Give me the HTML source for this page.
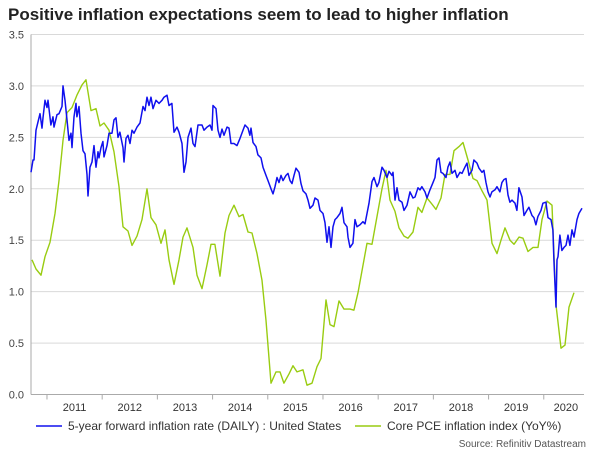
<!DOCTYPE html>
<html><head><meta charset="utf-8"><style>
body{margin:0;background:#fff;width:600px;height:450px;overflow:hidden;font-family:"Liberation Sans",Arial,sans-serif;}
</style></head><body>
<svg id="chart" width="600" height="450" xmlns="http://www.w3.org/2000/svg" font-family="Liberation Sans, Arial, sans-serif">
<text x="8" y="20" font-size="17" font-weight="bold" fill="#222">Positive inflation expectations seem to lead to higher inflation</text>
<g id="grid"></g><g id="axes"></g><g id="series"></g>
<g>
<line x1="36" y1="426" x2="62" y2="426" stroke="#1010ee" stroke-width="1.5"/>
<text x="68" y="430" font-size="12" fill="#333">5-year forward inflation rate (DAILY) : United States</text>
<line x1="355" y1="426" x2="381" y2="426" stroke="#99cc11" stroke-width="1.5"/>
<text x="387" y="430" font-size="12" fill="#333">Core PCE inflation index (YoY%)</text>
</g>
<text x="586" y="447" font-size="10" fill="#555" text-anchor="end">Source: Refinitiv Datastream</text>
</svg>
<script>
const yTicks=[0,0.5,1.0,1.5,2.0,2.5,3.0,3.5];
const yearLabels=[2011,2012,2013,2014,2015,2016,2017,2018,2019,2020];
const blueDates=[2010.711,2010.747,2010.765,2010.801,2010.837,2010.874,2010.910,2010.928,2010.964,2011.000,2011.018,2011.072,2011.109,2011.127,2011.181,2011.217,2011.272,2011.290,2011.326,2011.362,2011.399,2011.435,2011.453,2011.489,2011.525,2011.543,2011.580,2011.616,2011.652,2011.688,2011.725,2011.743,2011.779,2011.815,2011.851,2011.888,2011.924,2011.942,2011.978,2012.014,2012.033,2012.087,2012.123,2012.178,2012.214,2012.250,2012.286,2012.322,2012.377,2012.395,2012.431,2012.467,2012.504,2012.540,2012.576,2012.630,2012.685,2012.739,2012.775,2012.812,2012.848,2012.884,2012.920,2012.975,2013.029,2013.083,2013.120,2013.174,2013.210,2013.264,2013.301,2013.355,2013.391,2013.446,2013.482,2013.518,2013.554,2013.609,2013.645,2013.681,2013.736,2013.808,2013.844,2013.899,2013.953,2013.989,2014.007,2014.062,2014.098,2014.134,2014.170,2014.207,2014.261,2014.297,2014.333,2014.388,2014.442,2014.496,2014.551,2014.587,2014.641,2014.677,2014.696,2014.732,2014.786,2014.822,2014.877,2014.913,2014.967,2015.004,2015.058,2015.094,2015.130,2015.167,2015.203,2015.239,2015.275,2015.330,2015.366,2015.402,2015.438,2015.475,2015.511,2015.565,2015.601,2015.638,2015.692,2015.728,2015.765,2015.819,2015.855,2015.909,2015.946,2016.000,2016.036,2016.073,2016.109,2016.145,2016.181,2016.217,2016.254,2016.308,2016.344,2016.380,2016.435,2016.453,2016.489,2016.543,2016.580,2016.616,2016.670,2016.724,2016.761,2016.797,2016.833,2016.888,2016.924,2016.978,2017.014,2017.069,2017.105,2017.159,2017.196,2017.250,2017.268,2017.304,2017.341,2017.377,2017.431,2017.467,2017.522,2017.576,2017.630,2017.667,2017.721,2017.757,2017.793,2017.848,2017.884,2017.938,2017.993,2018.029,2018.065,2018.101,2018.138,2018.174,2018.228,2018.264,2018.301,2018.337,2018.391,2018.428,2018.482,2018.518,2018.572,2018.609,2018.645,2018.699,2018.735,2018.790,2018.826,2018.880,2018.916,2018.953,2018.989,2019.025,2019.061,2019.116,2019.152,2019.206,2019.242,2019.279,2019.315,2019.351,2019.387,2019.424,2019.478,2019.514,2019.550,2019.605,2019.641,2019.695,2019.731,2019.786,2019.822,2019.858,2019.894,2019.949,2019.985,2020.039,2020.076,2020.130,2020.166,2020.184,2020.221,2020.239,2020.257,2020.293,2020.329,2020.366,2020.402,2020.438,2020.474,2020.511,2020.547,2020.601,2020.637,2020.692];
const blueValues=[2.16,2.28,2.28,2.57,2.65,2.73,2.59,2.69,2.86,2.79,2.86,2.62,2.70,2.60,2.72,2.73,2.80,3.00,2.86,2.67,2.47,2.54,2.40,2.70,2.83,2.70,2.80,2.54,2.37,2.34,2.14,1.93,2.21,2.26,2.42,2.21,2.36,2.30,2.40,2.46,2.31,2.42,2.54,2.54,2.67,2.69,2.50,2.55,2.40,2.26,2.49,2.52,2.44,2.57,2.54,2.60,2.64,2.80,2.76,2.89,2.81,2.89,2.78,2.86,2.83,2.86,2.89,2.91,2.81,2.83,2.55,2.60,2.55,2.44,2.16,2.26,2.50,2.59,2.44,2.41,2.62,2.62,2.57,2.60,2.62,2.57,2.81,2.78,2.57,2.50,2.58,2.52,2.60,2.59,2.44,2.44,2.42,2.49,2.57,2.62,2.59,2.52,2.59,2.45,2.41,2.33,2.30,2.21,2.13,2.08,2.00,1.95,2.02,2.11,2.06,2.13,2.08,2.13,2.15,2.08,2.05,2.13,2.20,2.16,2.05,1.98,1.95,1.89,1.81,1.84,1.91,1.89,1.79,1.76,1.67,1.48,1.63,1.43,1.63,1.70,1.72,1.76,1.82,1.67,1.63,1.53,1.43,1.47,1.70,1.63,1.65,1.68,1.66,1.76,1.86,2.07,2.11,2.02,2.06,2.21,2.18,2.11,2.17,2.13,2.16,1.89,2.01,1.89,1.87,1.79,1.84,1.97,1.91,1.92,2.01,1.99,2.02,1.97,1.91,1.99,2.06,2.11,2.28,2.30,2.16,2.15,2.11,2.21,2.26,2.15,2.18,2.11,2.16,2.15,2.21,2.25,2.13,2.18,2.28,2.25,2.20,2.16,2.18,2.06,1.97,1.92,1.97,1.99,2.02,1.97,2.06,2.09,2.10,1.94,1.87,1.89,1.86,1.79,2.01,1.92,1.74,1.79,1.82,1.74,1.72,1.65,1.73,1.79,1.86,1.87,1.72,1.70,1.60,1.31,0.85,1.31,1.34,1.55,1.40,1.43,1.45,1.55,1.45,1.60,1.53,1.70,1.76,1.81];
const greenDates=[2010.729,2010.801,2010.892,2010.964,2011.054,2011.145,2011.217,2011.290,2011.362,2011.453,2011.543,2011.634,2011.707,2011.797,2011.888,2011.960,2012.033,2012.123,2012.214,2012.304,2012.377,2012.467,2012.540,2012.630,2012.721,2012.812,2012.884,2012.975,2013.065,2013.138,2013.210,2013.301,2013.391,2013.464,2013.536,2013.645,2013.717,2013.808,2013.899,2013.971,2014.043,2014.134,2014.225,2014.297,2014.388,2014.478,2014.551,2014.641,2014.714,2014.804,2014.895,2014.967,2015.058,2015.149,2015.221,2015.293,2015.384,2015.457,2015.529,2015.638,2015.710,2015.801,2015.891,2015.964,2016.054,2016.127,2016.199,2016.290,2016.380,2016.489,2016.561,2016.634,2016.797,2016.888,2017.069,2017.141,2017.214,2017.304,2017.377,2017.467,2017.540,2017.630,2017.721,2017.793,2017.884,2017.975,2018.047,2018.138,2018.210,2018.301,2018.373,2018.464,2018.536,2018.627,2018.717,2018.790,2018.880,2018.971,2019.062,2019.152,2019.225,2019.297,2019.388,2019.460,2019.551,2019.623,2019.714,2019.804,2019.895,2019.967,2020.058,2020.149,2020.221,2020.312,2020.384,2020.457,2020.547];
const greenValues=[1.31,1.22,1.16,1.34,1.48,1.76,2.08,2.47,2.74,2.79,2.91,3.01,3.06,2.76,2.78,2.61,2.64,2.57,2.36,2.02,1.63,1.59,1.45,1.54,1.70,2.00,1.72,1.65,1.47,1.60,1.31,1.07,1.31,1.53,1.62,1.43,1.16,1.03,1.26,1.46,1.46,1.15,1.57,1.74,1.84,1.73,1.75,1.58,1.57,1.37,1.11,0.72,0.11,0.22,0.22,0.11,0.20,0.28,0.22,0.24,0.09,0.11,0.27,0.35,0.92,0.68,0.66,0.91,0.83,0.83,0.82,0.99,1.47,1.46,2.00,2.18,1.89,1.78,1.62,1.54,1.52,1.58,1.82,1.77,1.91,1.85,1.80,1.91,2.14,2.14,2.37,2.41,2.45,2.28,2.10,2.08,1.98,1.89,1.47,1.37,1.50,1.62,1.50,1.46,1.53,1.52,1.39,1.43,1.43,1.70,1.88,1.84,0.87,0.45,0.48,0.85,0.99];

const NS='http://www.w3.org/2000/svg';
const L=31,R=584,T=34.5,B=394.5,yMax=3.5;
const x0=2010.149,pxPerYear=55.2;
function xs(t){return (t-x0)*pxPerYear;}
function ys(v){return B-(v/yMax)*(B-T);}
function mk(tag,attrs,parent){const e=document.createElementNS(NS,tag);for(const k in attrs)e.setAttribute(k,attrs[k]);parent.appendChild(e);return e;}
const grid=document.getElementById('grid'),axes=document.getElementById('axes'),series=document.getElementById('series');
yTicks.forEach(v=>{
  const y=ys(v);
  if(v>0){const g=mk('line',{x1:L,x2:R,y1:y,y2:y,stroke:'#d9d9d9','stroke-width':1},grid);
  
  }
  const t=mk('text',{x:24,y:y+4,'font-size':11,fill:'#444','text-anchor':'end'},axes);
  t.textContent=v.toFixed(1);
  
  
});
const ya=mk('line',{x1:L,x2:L,y1:T,y2:B,stroke:'#aaa','stroke-width':1},axes);


const xa=mk('line',{x1:L,x2:R,y1:B,y2:B,stroke:'#aaa','stroke-width':1},axes);


yearLabels.forEach(yr=>{
  const xt=xs(yr);
  const tk=mk('line',{x1:xt,x2:xt,y1:B,y2:B+5,stroke:'#aaa','stroke-width':1},axes);
  
  
  const cx=Math.min(xs(yr+0.5),(xt+R)/2+2);
  const t=mk('text',{x:cx,y:411,'font-size':11,fill:'#333','text-anchor':'middle'},axes);
  t.textContent=yr;
  
  
});
function path(dates,vals,color,w){
  let d='';for(let i=0;i<dates.length;i++)d+=(i?'L':'M')+xs(dates[i]).toFixed(1)+' '+ys(vals[i]).toFixed(1);
  return mk('path',{d:d,fill:'none',stroke:color,'stroke-width':w,'stroke-linejoin':'round'},series);
}
const gp=path(greenDates,greenValues,'#99cc11',1.4);


const bp=path(blueDates,blueValues,'#1010ee',1.5);


</script>
</body></html>
